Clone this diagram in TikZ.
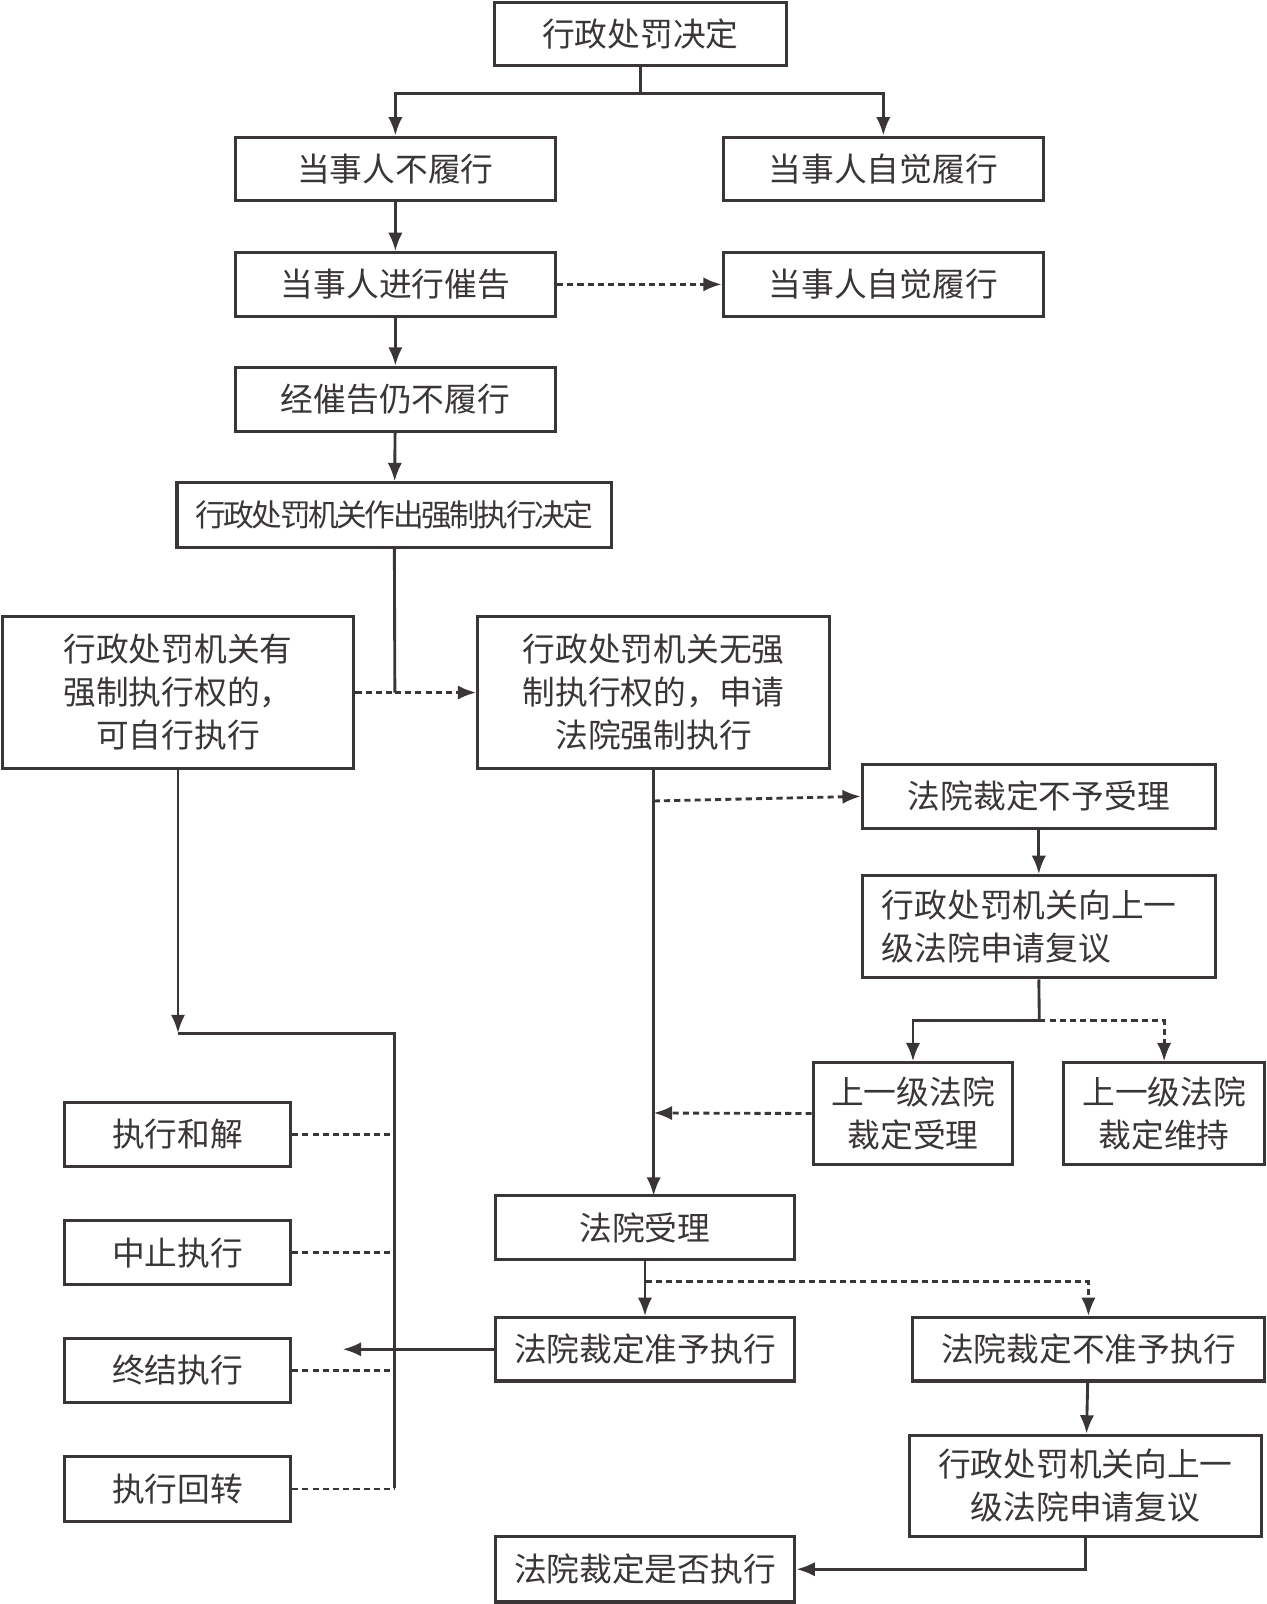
\documentclass[tikz,border=0pt]{standalone}
\usepackage{fontspec}
\setmainfont{Noto Sans CJK SC}
\usetikzlibrary{fit,arrows.meta,calc}
\definecolor{ink}{HTML}{3A3536}
\begin{document}
\begin{tikzpicture}[x=0.5pt,y=-0.5pt,
  bx/.style={draw=ink,line width=1.5pt,inner sep=0pt,align=center,text=ink,font=\fontsize{16}{20}\selectfont},
  ln/.style={draw=ink,line width=1.4pt},
  arr/.style={ln,-{Latex[length=9pt,width=7pt]}},
  dl/.style={ln,dashed,dash pattern=on 3pt off 2pt}]
\useasboundingbox (0,0) rectangle (1238,1568);
\newcommand\bx[6]{\node[bx,fit={(#2,#3)(#4,#5)}] (#1) {}; \node[text=ink,align=center,font=\fontsize{16}{21}\selectfont] at (#1.center) {#6};}
\bx{A}{483}{2}{769}{64}{行政处罚决定}
\bx{B1}{230}{134}{543}{196}{当事人不履行}
\bx{B2}{707}{134}{1020}{196}{当事人自觉履行}
\bx{C1}{230}{247}{543}{309}{当事人进行催告}
\bx{C2}{707}{247}{1020}{309}{当事人自觉履行}
\bx{D}{230}{359}{543}{422}{经催告仍不履行}
\node[bx,fit={(173,472)(598,535)}] (E) {};
\node[text=ink,font=\fontsize{15}{18}\selectfont] at (E.center) {\addfontfeature{LetterSpace=-8}行政处罚机关作出强制执行决定};
\bx{F1}{2}{603}{346}{751}{行政处罚机关有\\强制执行权的，\\可自行执行}
\bx{F2}{467}{603}{811}{751}{行政处罚机关无强\\制执行权的，申请\\法院强制执行}
\bx{G}{843}{747}{1188}{810}{法院裁定不予受理}
\node[bx,fit={(843,856)(1188,956)}] (H) {};
\node[text=ink,align=left,font=\fontsize{16}{21}\selectfont,anchor=west] at (855,906) {行政处罚机关向上一\\级法院申请复议};
\bx{I1}{795}{1039}{990}{1138}{上一级法院\\裁定受理}
\bx{I2}{1040}{1039}{1236}{1138}{上一级法院\\裁定维持}
\bx{J}{484}{1169}{777}{1231}{法院受理}
\bx{K1}{484}{1288}{777}{1350}{法院裁定准予执行}
\bx{K2}{892}{1288}{1236}{1350}{法院裁定不准予执行}
\bx{L}{889}{1403}{1233}{1502}{行政处罚机关向上一\\级法院申请复议}
\bx{M}{484}{1502}{777}{1566}{法院裁定是否执行}
\bx{P1}{63}{1078}{284}{1140}{执行和解}
\bx{P2}{63}{1193}{284}{1256}{中止执行}
\bx{P3}{63}{1308}{284}{1371}{终结执行}
\bx{P4}{63}{1424}{284}{1487}{执行回转}
% connectors
\draw[ln] (A.south) -- (626,91) coordinate (a1);
\draw[arr] (a1) -| (B1.north);
\draw[arr] (a1) -| (B2.north);
\draw[arr] (B1) -- (C1);
\draw[arr,dashed,dash pattern=on 3pt off 2pt] (C1) -- (C2);
\draw[arr] (C1) -- (D);
\draw[arr] (D) -- (E);
\draw[ln] (E.south) -- (386,677) coordinate (e1);
\draw[dl] (F1.east) -- (e1);
\draw[arr,dash pattern=on 3pt off 2pt] (e1) -- (F2.west);
\draw[arr] (F1.south) -- (174,1010) coordinate (f1);
\draw[ln] (f1) -- (386,1010) coordinate (f2) -- (386,1455) coordinate (f3);
\foreach \p in {P1,P2,P3,P4}{\draw[dl] (\p.east) -- (386,0 |- \p.east);}
\draw[arr] (F2.south) -- (639,1169) coordinate (j0);
\draw[arr,dash pattern=on 3pt off 2pt] (639,783) -- (G.west);
\draw[arr] (G) -- (H);
\draw[ln] (H.south) -- (1016,998) coordinate (h1);
\draw[arr] (h1) -| (I1.north);
\draw[arr,dash pattern=on 3pt off 2pt] (h1) -| (I2.north);
\draw[arr,dash pattern=on 3pt off 2pt] (I1.west) -- (639,1088);
\draw[arr] (J.south) -- (K1.north);
\draw[arr,dash pattern=on 3pt off 2pt] (631,1253) -| (K2.north);
\draw[arr] (K1.west) -- (335,1319);
\draw[arr] (K2) -- (L);
\draw[arr] (L.south) |- (M.east);
\end{tikzpicture}
\end{document}
